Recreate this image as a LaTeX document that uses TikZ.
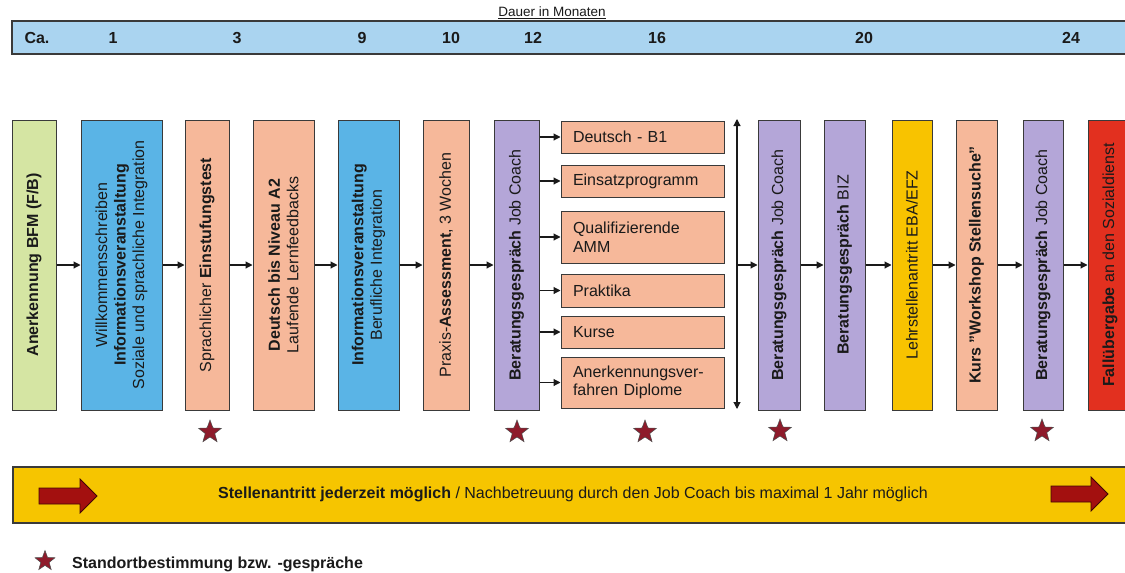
\documentclass[tikz,border=0pt]{standalone}
\usepackage{fontspec}
\setmainfont{Liberation Sans}
\usetikzlibrary{arrows.meta,shapes.geometric}
\definecolor{bordc}{HTML}{3A3A3A}
\definecolor{txtc}{HTML}{1A1A1A}
\definecolor{topc}{HTML}{AAD4F0}
\definecolor{greenc}{HTML}{D5E5A3}
\definecolor{bluec}{HTML}{5AB4E6}
\definecolor{salmc}{HTML}{F6B89A}
\definecolor{purpc}{HTML}{B4A6D8}
\definecolor{yelc}{HTML}{F8C300}
\definecolor{barc}{HTML}{F6C500}
\definecolor{redc}{HTML}{E2301F}
\definecolor{starc}{HTML}{8E1B2B}
\definecolor{arrbc}{HTML}{A3100F}
\newcommand\bxfont{\fontsize{16}{18.5}\selectfont}
\tikzset{
  vbox/.style={draw=bordc, line width=1pt, rotate=90, minimum width=290pt,
    minimum height=#1, inner sep=0pt, align=center, font=\bxfont, text=txtc},
  hbox/.style={draw=bordc, line width=1pt, fill=salmc, minimum width=163pt,
    minimum height=#1, text width=139pt, inner xsep=12pt, inner ysep=0pt,
    align=left, font=\bxfont, text=txtc},
  conn/.style={-{Triangle[length=7pt,width=7pt]}, line width=1.1pt, draw=txtc},
  starm/.style={star, star points=5, star point ratio=2.4, minimum size=#1,
    inner sep=0pt, fill=starc, draw=black!70, line width=0.5pt},
  numl/.style={font=\fontsize{16}{18}\selectfont\bfseries, text=txtc, inner sep=0pt},
  blockarrow/.style={fill=arrbc, draw=black!60!arrbc, line width=0.8pt},
}
\begin{document}
\begin{tikzpicture}[x=1pt,y=-1pt]
\clip (0,0) rectangle (1125,573);
\fill[white] (0,0) rectangle (1125,573);
% top bar
\node[font=\fontsize{13.5}{15}\selectfont, text=txtc, inner sep=0pt] (dauer) at (552,13) {\underline{Dauer in Monaten}};
\draw[fill=topc, draw=bordc, line width=1.6pt] (12,21) rectangle (1140,54);
\node[numl] (ca) at (37,38) {Ca.};
\node[numl] (m1) at (113,38) {1};
\node[numl] (m3) at (237,38) {3};
\node[numl] (m9) at (362,38) {9};
\node[numl] (m10) at (451,38) {10};
\node[numl] (m12) at (533,38) {12};
\node[numl] (m16) at (657,38) {16};
\node[numl] (m20) at (864,38) {20};
\node[numl] (m24) at (1071,38) {24};
% main boxes
\node[vbox=44pt, fill=greenc] (b1) at (34,265) {\textbf{Anerkennung BFM (F/B)}};
\node[vbox=81pt, fill=bluec] (b2) at (121.5,265) {Willkommensschreiben\\\textbf{Informationsveranstaltung}\\Soziale und sprachliche Integration};
\node[vbox=44pt, fill=salmc] (b3) at (207,265) {Sprachlicher \textbf{Einstufungstest}};
\node[vbox=61pt, fill=salmc] (b4) at (283.5,265) {\textbf{Deutsch bis Niveau A2}\\Laufende Lernfeedbacks};
\node[vbox=61pt, fill=bluec] (b5) at (368.5,265) {\textbf{Informationsveranstaltung}\\Berufliche Integration};
\node[vbox=46pt, fill=salmc] (b6) at (446,265) {Praxis-\textbf{Assessment}, 3 Wochen};
\node[vbox=45pt, fill=purpc] (b7) at (516.5,265) {\textbf{Beratungsgespräch} Job Coach};
\node[vbox=42pt, fill=purpc] (b8) at (779,265) {\textbf{Beratungsgespräch} Job Coach};
\node[vbox=41pt, fill=purpc] (b9) at (844.5,265) {\textbf{Beratungsgespräch} BIZ};
\node[vbox=40pt, fill=yelc] (b10) at (912,265) {Lehrstellenantritt EBA/EFZ};
\node[vbox=41pt, fill=salmc] (b11) at (976.5,265) {\textbf{Kurs "Workshop Stellensuche"}};
\node[vbox=40pt, fill=purpc] (b12) at (1043,265) {\textbf{Beratungsgespräch} Job Coach};
\node[vbox=44pt, fill=redc] (b13) at (1110,265) {\textbf{Fallübergabe} an den Sozialdienst};
% small boxes
\node[hbox=32pt] (h1) at (642.5,137) {Deutsch - B1};
\node[hbox=32pt] (h2) at (642.5,181) {Einsatzprogramm};
\node[hbox=52pt] (h3) at (642.5,237) {Qualifizierende\\AMM};
\node[hbox=33pt] (h4) at (642.5,290.5) {Praktika};
\node[hbox=32pt] (h5) at (642.5,332) {Kurse};
\node[hbox=51pt] (h6) at (642.5,382.5) {Anerkennungsver-\\fahren Diplome};
% connectors
\draw[conn] (b1) -- (b2);
\draw[conn] (b2) -- (b3);
\draw[conn] (b3) -- (b4);
\draw[conn] (b4) -- (b5);
\draw[conn] (b5) -- (b6);
\draw[conn] (b6) -- (b7);
\foreach \h in {h1,h2,h3,h4,h5,h6}{
  \draw[conn] (b7.south |- \h) -- (\h);
}
\coordinate (vt) at (737,119);
\coordinate (vb) at (737,409);
\coordinate (vm) at (737,265);
\draw[{Triangle[length=7pt,width=7pt]}-{Triangle[length=7pt,width=7pt]}, line width=1.1pt, draw=txtc] (vt) -- (vb);
\draw[conn] (vm) -- (b8);
\draw[conn] (b8) -- (b9);
\draw[conn] (b9) -- (b10);
\draw[conn] (b10) -- (b11);
\draw[conn] (b11) -- (b12);
\draw[conn] (b12) -- (b13);
% stars
\node[starm=24pt] (s1) at (210,432) {};
\node[starm=24pt] (s2) at (517,432) {};
\node[starm=24pt] (s3) at (645,432) {};
\node[starm=24pt] (s4) at (780,431) {};
\node[starm=24pt] (s5) at (1042,431) {};
% bottom bar
\draw[fill=barc, draw=bordc, line width=1.2pt] (13,467) rectangle (1140,523);
\draw[blockarrow] (39,488) -- (80,488) -- (80,479) -- (97,496) -- (80,513) -- (80,504) -- (39,504) -- cycle;
\draw[blockarrow] (1051,486) -- (1091,486) -- (1091,477) -- (1108,494) -- (1091,511) -- (1091,502) -- (1051,502) -- cycle;
\node[font=\bxfont, text=txtc, inner sep=0pt] (bartext) at (573,494) {\textbf{Stellenantritt jederzeit möglich} / Nachbetreuung durch den Job Coach bis maximal 1 Jahr möglich};
% legend
\node[starm=21pt] (ls) at (45,561) {};
\node[font=\fontsize{16}{18}\selectfont\bfseries, text=txtc, anchor=west, inner sep=0pt] (lt) at (72,564) {Standortbestimmung bzw. -gespräche};
\end{tikzpicture}
\end{document}
